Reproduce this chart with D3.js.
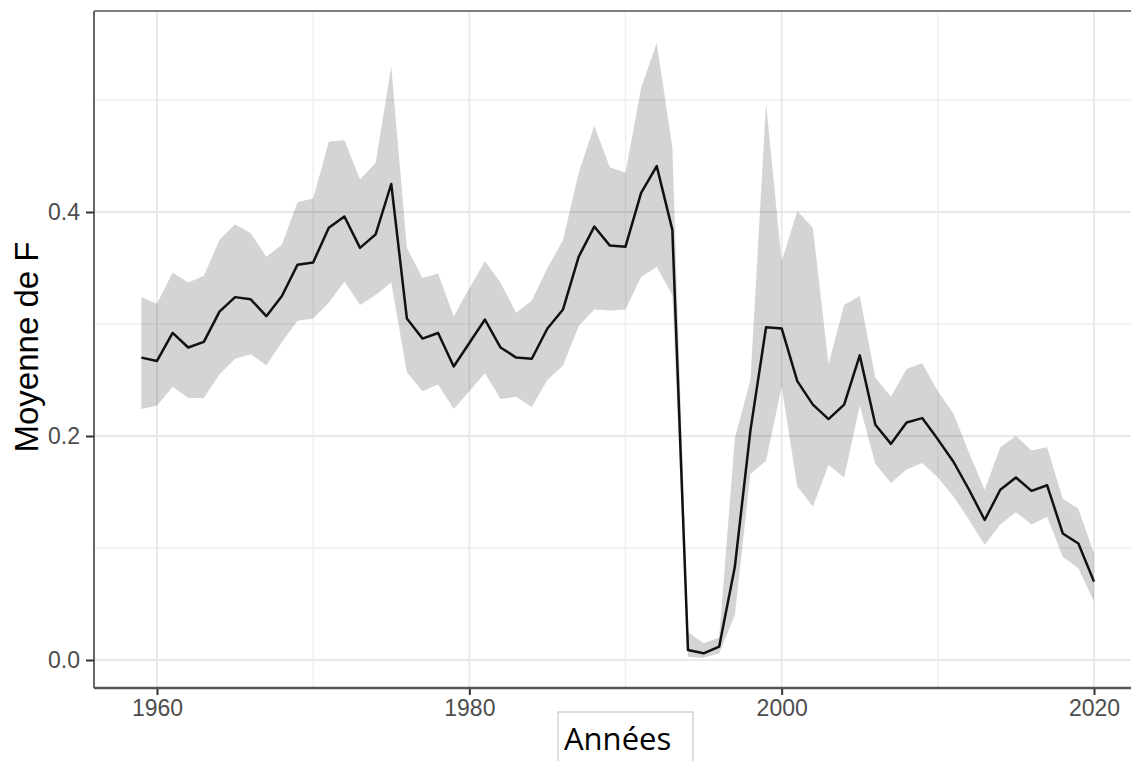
<!DOCTYPE html>
<html>
<head>
<meta charset="utf-8">
<script src="https://cdn.jsdelivr.net/npm/d3@7/dist/d3.min.js"></script>
<style>
  html, body { margin: 0; padding: 0; background: #fff; }
  #chart svg { display: block; }
</style>
</head>
<body>
<div id="chart"></div>
<script>
// 年份
const years = [1959, 1960, 1961, 1962, 1963, 1964, 1965, 1966, 1967, 1968,
  1969, 1970, 1971, 1972, 1973, 1974, 1975, 1976, 1977, 1978,
  1979, 1980, 1981, 1982, 1983, 1984, 1985, 1986, 1987, 1988,
  1989, 1990, 1991, 1992, 1993, 1994, 1995, 1996, 1997, 1998,
  1999, 2000, 2001, 2002, 2003, 2004, 2005, 2006, 2007, 2008,
  2009, 2010, 2011, 2012, 2013, 2014, 2015, 2016, 2017, 2018,
  2019, 2020];

// 平均值 F
const meanF = [0.270, 0.267, 0.292, 0.279, 0.284, 0.311, 0.324, 0.322, 0.307, 0.325,
  0.353, 0.355, 0.386, 0.396, 0.368, 0.380, 0.425, 0.305, 0.287, 0.292,
  0.262, 0.283, 0.304, 0.279, 0.270, 0.269, 0.296, 0.313, 0.360, 0.387,
  0.370, 0.369, 0.417, 0.441, 0.384, 0.009, 0.006, 0.012, 0.083, 0.205,
  0.297, 0.296, 0.249, 0.228, 0.215, 0.228, 0.272, 0.210, 0.193, 0.212,
  0.216, 0.197, 0.177, 0.152, 0.125, 0.152, 0.163, 0.151, 0.156, 0.113,
  0.104, 0.070];

// 区间上界
const upperF = [0.324, 0.318, 0.346, 0.337, 0.343, 0.375, 0.389, 0.381, 0.360, 0.371,
  0.409, 0.412, 0.463, 0.464, 0.429, 0.444, 0.530, 0.368, 0.341, 0.345,
  0.307, 0.332, 0.356, 0.337, 0.310, 0.321, 0.350, 0.375, 0.435, 0.477,
  0.440, 0.435, 0.511, 0.551, 0.458, 0.025, 0.015, 0.020, 0.198, 0.250,
  0.497, 0.356, 0.401, 0.386, 0.264, 0.317, 0.325, 0.252, 0.235, 0.260,
  0.265, 0.240, 0.220, 0.185, 0.152, 0.190, 0.200, 0.187, 0.190, 0.144,
  0.135, 0.095];

// 区间下界
const lowerF = [0.224, 0.227, 0.244, 0.234, 0.234, 0.255, 0.269, 0.273, 0.263, 0.284,
  0.303, 0.305, 0.319, 0.338, 0.317, 0.326, 0.337, 0.257, 0.240, 0.246,
  0.224, 0.240, 0.256, 0.233, 0.235, 0.226, 0.250, 0.263, 0.298, 0.313,
  0.312, 0.313, 0.342, 0.351, 0.326, 0.003, 0.002, 0.006, 0.040, 0.166,
  0.178, 0.244, 0.155, 0.137, 0.174, 0.163, 0.227, 0.175, 0.158, 0.170,
  0.176, 0.163, 0.146, 0.125, 0.103, 0.121, 0.132, 0.121, 0.128, 0.092,
  0.082, 0.052];

// 刻度
const xTicks = [1960, 1980, 2000, 2020];
const xMinor = [1970, 1990, 2010];
const yTicks = [0.0, 0.2, 0.4];
const yMinor = [0.1, 0.3, 0.5];

const width = 1131, height = 761;
const panel = { left: 94, top: 11, right: 1145, bottom: 688 };

const rows = years.map((yr, i) => ({ year: yr, mean: meanF[i], lo: lowerF[i], hi: upperF[i] }));

const x = d3.scaleLinear().domain([1960, 2020]).range([157, 1094]);
const y = d3.scaleLinear().domain([0, 0.4]).range([660, 212]);

const svg = d3.select("#chart")
  .append("svg")
  .attr("width", width)
  .attr("height", height)
  .style("font-family", "'Liberation Sans', Arial, sans-serif");

svg.append("rect").attr("width", width).attr("height", height).attr("fill", "#fff");

// 网格线
const grid = svg.append("g");
grid.selectAll(".gx-minor").data(xMinor).enter().append("line")
  .attr("x1", d => x(d)).attr("x2", d => x(d))
  .attr("y1", panel.top).attr("y2", panel.bottom)
  .attr("stroke", "#efefef").attr("stroke-width", 1.4);
grid.selectAll(".gy-minor").data(yMinor).enter().append("line")
  .attr("x1", panel.left).attr("x2", panel.right)
  .attr("y1", d => y(d)).attr("y2", d => y(d))
  .attr("stroke", "#efefef").attr("stroke-width", 1.4);
grid.selectAll(".gx").data(xTicks).enter().append("line")
  .attr("x1", d => x(d)).attr("x2", d => x(d))
  .attr("y1", panel.top).attr("y2", panel.bottom)
  .attr("stroke", "#e8e8e8").attr("stroke-width", 1.8);
grid.selectAll(".gy").data(yTicks).enter().append("line")
  .attr("x1", panel.left).attr("x2", panel.right)
  .attr("y1", d => y(d)).attr("y2", d => y(d))
  .attr("stroke", "#e8e8e8").attr("stroke-width", 1.8);

// 置信带
const area = d3.area()
  .x(d => x(d.year))
  .y0(d => y(d.lo))
  .y1(d => y(d.hi));

svg.append("path")
  .datum(rows)
  .attr("d", area)
  .attr("fill", "#000")
  .attr("fill-opacity", 0.17);

// 均值线
const line = d3.line()
  .x(d => x(d.year))
  .y(d => y(d.mean));

svg.append("path")
  .datum(rows)
  .attr("d", line)
  .attr("fill", "none")
  .attr("stroke", "#111")
  .attr("stroke-width", 2.5)
  .attr("stroke-linejoin", "round");

// 边框
svg.append("line")
  .attr("x1", panel.left).attr("x2", panel.right)
  .attr("y1", panel.top).attr("y2", panel.top)
  .attr("stroke", "#808080").attr("stroke-width", 2.2);
svg.append("line")
  .attr("x1", panel.left).attr("x2", panel.left)
  .attr("y1", panel.top).attr("y2", panel.bottom)
  .attr("stroke", "#666").attr("stroke-width", 2);

// 坐标轴
const xAxis = svg.append("g")
  .attr("transform", `translate(0,${panel.bottom})`)
  .call(d3.axisBottom(x).tickValues(xTicks).tickFormat(d3.format("d")).tickSize(7).tickPadding(5))
  .call(g => g.select(".domain").remove());
xAxis.append("line")
  .attr("x1", panel.left).attr("x2", panel.right)
  .attr("stroke", "#555").attr("stroke-width", 2.5);
xAxis.selectAll(".tick line").attr("stroke", "#333").attr("stroke-width", 2);
xAxis.selectAll(".tick text")
  .attr("fill", "#4d4d4d")
  .style("font-size", "23px")
  .style("font-family", "'Liberation Sans', Arial, sans-serif");

const yAxis = svg.append("g")
  .attr("transform", `translate(${panel.left},0)`)
  .call(d3.axisLeft(y).tickValues(yTicks).tickFormat(d3.format(".1f")).tickSize(8).tickPadding(6))
  .call(g => g.select(".domain").remove());
yAxis.selectAll(".tick line").attr("stroke", "#333").attr("stroke-width", 2);
yAxis.selectAll(".tick text")
  .attr("fill", "#4d4d4d")
  .style("font-size", "23px")
  .style("font-family", "'Liberation Sans', Arial, sans-serif");

// 轴标题
svg.append("text")
  .attr("transform", "translate(38,347) rotate(-90)")
  .attr("text-anchor", "middle")
  .attr("fill", "#000")
  .style("font-size", "33px")
  .text("Moyenne de F");

const box = svg.append("g").attr("transform", "translate(558,712)");
box.append("rect")
  .attr("width", 135).attr("height", 60)
  .attr("fill", "#fff")
  .attr("stroke", "#bdbdbd").attr("stroke-width", 1);
box.append("text")
  .attr("x", 6).attr("y", 38)
  .attr("fill", "#000")
  .style("font-family", "'Open Sans', 'Noto Sans', sans-serif")
  .style("font-size", "31px")
  .text("Années");
</script>
</body>
</html>
